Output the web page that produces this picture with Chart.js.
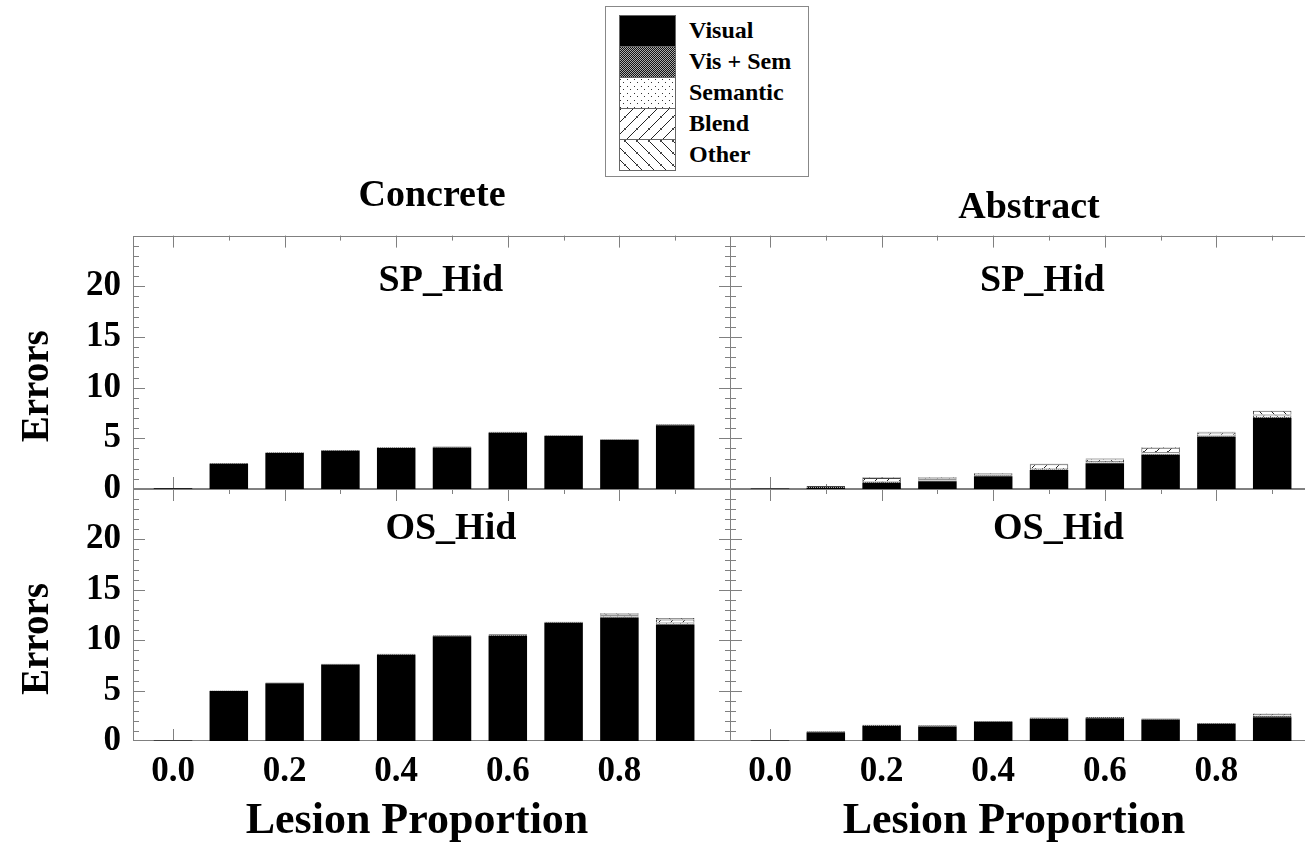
<!DOCTYPE html>
<html>
<head>
<meta charset="utf-8">
<script src="https://cdn.jsdelivr.net/npm/chart.js@4.4.0/dist/chart.umd.min.js"></script>
<style>
  html, body { margin: 0; padding: 0; background: #fff; overflow: hidden; width: 1305px; height: 847px; }
  canvas.panel { position: absolute; }
  #legend {
    position: absolute; left: 605px; top: 6px; width: 204px; height: 171px;
    border: 1px solid #888; box-sizing: border-box;
    font: bold 24px 'Liberation Serif', 'Times New Roman', serif;
  }
  #swatches { position: absolute; left: 13px; top: 8px; }
  .legend-label { position: absolute; left: 83px; line-height: 24px; white-space: nowrap; }
</style>
</head>
<body>
<div id="legend"><canvas id="swatches" width="58" height="158"></canvas></div>
<canvas id="concSp" class="panel" width="731" height="340" style="left:0;top:170px"></canvas>
<canvas id="abstSp" class="panel" width="598" height="340" style="left:730px;top:170px"></canvas>
<canvas id="concOs" class="panel" width="731" height="358" style="left:0;top:489px"></canvas>
<canvas id="abstOs" class="panel" width="598" height="358" style="left:730px;top:489px"></canvas>
<script>
// Data
const lesionLevels = [0.0, 0.1, 0.2, 0.3, 0.4, 0.5, 0.6, 0.7, 0.8, 0.9];
const lesionTicks = [0.0, 0.2, 0.4, 0.6, 0.8];
const errorTicks = [0, 5, 10, 15, 20];
const errorTypes = ['Visual', 'Vis + Sem', 'Semantic', 'Blend', 'Other'];

// Concrete, SP_Hid
const concSpVisual   = [0.08, 2.5, 3.55, 3.78, 4.05, 4.1, 5.55, 5.22, 4.85, 6.3];
const concSpVisSem   = [0, 0.07, 0.08, 0.08, 0.08, 0.09, 0.09, 0.09, 0.07, 0.1];
const concSpSemantic = [0, 0, 0, 0, 0, 0, 0, 0, 0, 0];
const concSpBlend    = [0, 0, 0, 0, 0, 0, 0, 0, 0, 0];
const concSpOther    = [0, 0, 0, 0, 0, 0, 0, 0, 0, 0];

// Abstract, SP_Hid
const abstSpVisual   = [0.05, 0.1, 0.6, 0.76, 1.25, 1.88, 2.54, 3.37, 5.15, 7.0];
const abstSpVisSem   = [0, 0.2, 0.08, 0.08, 0.1, 0.08, 0.08, 0.1, 0.08, 0.1];
const abstSpSemantic = [0, 0, 0.1, 0.12, 0.15, 0.12, 0.15, 0.15, 0.12, 0.15];
const abstSpBlend    = [0, 0, 0.3, 0.1, 0.08, 0.35, 0.15, 0.45, 0.22, 0.1];
const abstSpOther    = [0, 0, 0.08, 0.1, 0, 0.07, 0.08, 0.08, 0.08, 0.37];

// Concrete, OS_Hid
const concOsVisual   = [0.05, 4.95, 5.72, 7.58, 8.55, 10.38, 10.45, 11.72, 12.25, 11.55];
const concOsVisSem   = [0, 0.05, 0.08, 0.08, 0.11, 0.1, 0.15, 0.12, 0.1, 0.08];
const concOsSemantic = [0, 0, 0, 0, 0, 0, 0, 0, 0.12, 0.12];
const concOsBlend    = [0, 0, 0, 0, 0, 0, 0, 0, 0.1, 0.3];
const concOsOther    = [0, 0, 0, 0, 0, 0, 0, 0, 0.1, 0.15];

// Abstract, OS_Hid
const abstOsVisual   = [0.05, 0.86, 1.5, 1.45, 1.9, 2.2, 2.25, 2.13, 1.72, 2.35];
const abstOsVisSem   = [0, 0.1, 0.1, 0.11, 0.09, 0.12, 0.14, 0.09, 0.07, 0.12];
const abstOsSemantic = [0, 0, 0, 0, 0, 0, 0, 0, 0, 0.05];
const abstOsBlend    = [0, 0, 0, 0, 0, 0, 0, 0, 0, 0.15];
const abstOsOther    = [0, 0, 0, 0, 0, 0, 0, 0, 0, 0.05];

const FONT = "'Liberation Serif', 'Times New Roman', serif";
const FRAME = '#808080';

// Hatch fills, one per error type
function makePattern(kind) {
  if (kind === 'solid') return '#000';
  const c = document.createElement('canvas');
  const g = c.getContext('2d');
  if (kind === 'checker') {
    c.width = c.height = 2;
    g.fillStyle = '#111'; g.fillRect(0, 0, 2, 2);
    g.fillStyle = '#aaa'; g.fillRect(0, 0, 1, 1); g.fillRect(1, 1, 1, 1);
  } else if (kind === 'dots') {
    c.width = c.height = 7;
    g.fillStyle = '#fff'; g.fillRect(0, 0, 7, 7);
    g.fillStyle = '#333'; g.fillRect(1, 1, 1, 1); g.fillRect(4, 4, 1, 1);
  } else {
    const n = 12;
    c.width = c.height = n;
    g.fillStyle = '#fff'; g.fillRect(0, 0, n, n);
    g.strokeStyle = '#222'; g.lineWidth = 1;
    g.beginPath();
    for (const off of [-n, 0, n]) {
      if (kind === 'fwd') { g.moveTo(off, n); g.lineTo(off + n, 0); }
      else { g.moveTo(off, 0); g.lineTo(off + n, n); }
    }
    g.stroke();
    g.fillStyle = '#444';
    g.fillRect(5, 5, 2, 2);
  }
  return g.createPattern(c, 'repeat');
}
const fills = ['solid', 'checker', 'dots', 'fwd', 'back'].map(makePattern);

// Legend swatches
(function drawLegend() {
  const box = document.getElementById('legend');
  const g = document.getElementById('swatches').getContext('2d');
  errorTypes.forEach((name, i) => {
    const y = 0.5 + i * 31;
    g.fillStyle = fills[i];
    g.fillRect(0.5, y, 56, 31);
    g.strokeStyle = '#666';
    g.strokeRect(0.5, y, 56, 31);
    const lab = document.createElement('div');
    lab.className = 'legend-label';
    lab.style.top = (8 + 31 * i + 3) + 'px';
    lab.textContent = name;
    box.appendChild(lab);
  });
})();

// Frame, inward ticks, panel label and axis titles
const panelDeco = {
  id: 'panelDeco',
  beforeDatasetsDraw(chart) {
    const { ctx, chartArea: a, scales: { x, y } } = chart;
    ctx.save();
    ctx.strokeStyle = FRAME;
    ctx.lineWidth = 1;
    ctx.beginPath();
    for (let i = 0; i < 10; i++) {
      const px = Math.round(x.getPixelForValue(i / 10)) + 0.5;
      const len = i % 2 === 0 ? 12 : 5;
      ctx.moveTo(px, a.top); ctx.lineTo(px, a.top + len);
      ctx.moveTo(px, a.bottom); ctx.lineTo(px, a.bottom - len);
    }
    for (let v = 1; v < 25; v++) {
      const py = Math.round(y.getPixelForValue(v)) + 0.5;
      const len = v % 5 === 0 ? 12 : 6;
      ctx.moveTo(a.left, py); ctx.lineTo(a.left + len, py);
      ctx.moveTo(a.right, py); ctx.lineTo(a.right - len, py);
    }
    ctx.stroke();
    ctx.strokeRect(Math.round(a.left) + 0.5, Math.round(a.top) + 0.5,
      Math.round(a.right - a.left) - 1, Math.round(a.bottom - a.top) - 1);
    ctx.restore();
  },
  afterDatasetsDraw(chart, args, opts) {
    const { ctx, chartArea: a, scales: { x, y } } = chart;
    ctx.save();
    ctx.fillStyle = '#000';
    ctx.textAlign = 'center';
    ctx.font = 'bold 38px ' + FONT;
    ctx.textBaseline = 'alphabetic';
    ctx.fillText(opts.label, x.getPixelForValue(opts.labelX), y.getPixelForValue(opts.labelY));
    ctx.textBaseline = 'middle';
    if (opts.yTitle) {
      ctx.save();
      ctx.translate(38, (a.top + a.bottom) / 2 + 24);
      ctx.rotate(-Math.PI / 2);
      ctx.font = 'bold 39px ' + FONT;
      ctx.fillText(opts.yTitle, 0, 0);
      ctx.restore();
    }
    if (opts.xTitle) {
      ctx.font = 'bold 44px ' + FONT;
      ctx.fillText(opts.xTitle, (a.left + a.right) / 2 - 15, chart.height - 25);
    }
    ctx.restore();
  }
};

function noPad(s) {
  s.paddingLeft = s.paddingRight = s.paddingTop = s.paddingBottom = 0;
}

function panelChart(canvasId, series, cfg) {
  const tickFont = { family: FONT, size: 35, weight: 'bold' };
  return new Chart(document.getElementById(canvasId), {
    type: 'bar',
    data: {
      datasets: series.map((vals, i) => ({
        label: errorTypes[i],
        data: lesionLevels.map((lv, j) => ({ x: lv, y: vals[j] })),
        backgroundColor: fills[i],
        borderColor: '#444',
        borderWidth: i === 0 ? 0 : 1,
        barPercentage: 0.69,
        categoryPercentage: 1
      }))
    },
    options: {
      responsive: false,
      animation: false,
      events: [],
      layout: { padding: { bottom: cfg.bottom ? 0 : 21 } },
      plugins: {
        legend: { display: false },
        tooltip: { enabled: false },
        title: cfg.title ? {
          display: true, text: cfg.title, fullSize: false, color: '#000',
          font: { family: FONT, size: 38, weight: 'bold' },
          padding: cfg.titlePad
        } : { display: false },
        panelDeco: {
          label: cfg.label, labelX: cfg.labelX, labelY: cfg.labelY,
          yTitle: cfg.left ? 'Errors' : null,
          xTitle: cfg.bottom ? 'Lesion Proportion' : null
        }
      },
      scales: {
        x: {
          type: 'linear', stacked: true, offset: false, min: -0.0717, max: 1.0,
          display: !!cfg.bottom,
          grid: { display: false, drawTicks: false },
          border: { display: false },
          afterBuildTicks: s => { s.ticks = lesionTicks.map(v => ({ value: v })); },
          afterFit: s => { s.height = cfg.bottom ? 106 : 0; noPad(s); },
          ticks: {
            autoSkip: false, maxRotation: 0, padding: 10, color: '#000', font: tickFont,
            callback: v => v.toFixed(1)
          }
        },
        y: {
          stacked: true, min: 0, max: 25,
          display: !!cfg.left,
          grid: { display: false, drawTicks: false },
          border: { display: false },
          afterBuildTicks: s => { s.ticks = errorTicks.map(v => ({ value: v })); },
          afterFit: s => { s.width = cfg.left ? 133 : 0; noPad(s); },
          ticks: { padding: 12, color: '#000', font: tickFont }
        }
      }
    },
    plugins: [panelDeco]
  });
}

panelChart('concSp', [concSpVisual, concSpVisSem, concSpSemantic, concSpBlend, concSpOther],
  { left: true, title: 'Concrete', titlePad: { top: 3, bottom: 17 }, label: 'SP_Hid', labelX: 0.48, labelY: 19.5 });
panelChart('abstSp', [abstSpVisual, abstSpVisSem, abstSpSemantic, abstSpBlend, abstSpOther],
  { title: 'Abstract', titlePad: { top: 15, bottom: 5 }, label: 'SP_Hid', labelX: 0.488, labelY: 19.5 });
panelChart('concOs', [concOsVisual, concOsVisSem, concOsSemantic, concOsBlend, concOsOther],
  { left: true, bottom: true, label: 'OS_Hid', labelX: 0.498, labelY: 20 });
panelChart('abstOs', [abstOsVisual, abstOsVisSem, abstOsSemantic, abstOsBlend, abstOsOther],
  { bottom: true, label: 'OS_Hid', labelX: 0.517, labelY: 20 });
</script>
</body>
</html>
